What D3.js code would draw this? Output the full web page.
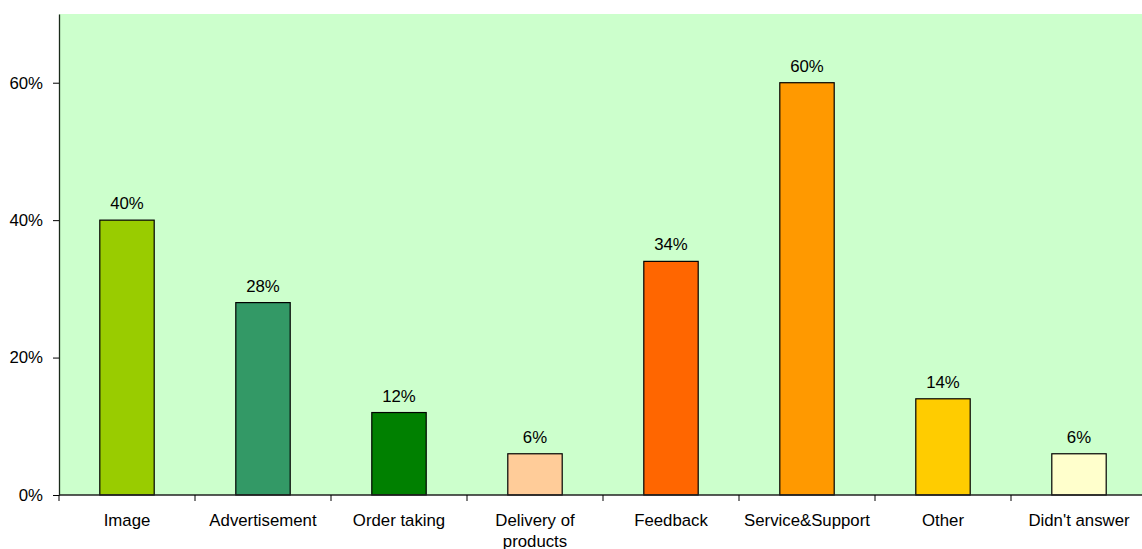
<!DOCTYPE html>
<html>
<head>
<meta charset="utf-8">
<script src="https://cdn.jsdelivr.net/npm/d3@7"></script>
<style>
  html, body { margin: 0; padding: 0; background: #fff; }
  svg { display: block; font-family: "Liberation Sans", Arial, sans-serif; }
</style>
</head>
<body>
<svg id="chart" width="1142" height="549"></svg>
<script>
// Survey answers: share of respondents per purpose
const categories = ["Image", "Advertisement", "Order taking", "Delivery of products",
                    "Feedback", "Service&Support", "Other", "Didn't answer"];
const values = [40, 28, 12, 6, 34, 60, 14, 6];
const barColors = ["#99CC00", "#339966", "#008000", "#FFCC99",
                   "#FF6600", "#FF9900", "#FFCC00", "#FFFFCC"];
const yTicks = [0, 20, 40, 60];
// category labels split onto two lines where needed
const labelLines = {"Delivery of products": ["Delivery of", "products"]};

const svg = d3.select("#chart");
const margin = {left: 59, top: 14, bottom: 54};
const plotW = 136 * categories.length;
const plotH = 549 - margin.top - margin.bottom;

const x = d3.scaleBand().domain(categories).range([0, plotW]).paddingInner(0.6).paddingOuter(0.3);
const y = d3.scaleLinear().domain([0, 70]).range([plotH, 0]);

const g = svg.append("g").attr("transform", `translate(${margin.left},${margin.top})`);

// plot background
g.append("rect").attr("x", 0).attr("y", 0).attr("width", plotW).attr("height", plotH)
  .attr("fill", "#CCFFCC");

// bars
g.selectAll("rect.bar").data(values).join("rect")
  .attr("class", "bar")
  .attr("x", (d, i) => x(categories[i]))
  .attr("y", d => y(d))
  .attr("width", x.bandwidth())
  .attr("height", d => y(0) - y(d))
  .attr("fill", (d, i) => barColors[i])
  .attr("stroke", "#000")
  .attr("stroke-width", 1.2);

// value labels
g.selectAll("text.val").data(values).join("text")
  .attr("class", "val")
  .attr("x", (d, i) => x(categories[i]) + x.bandwidth() / 2)
  .attr("y", d => y(d) - 11)
  .attr("text-anchor", "middle")
  .attr("font-size", 16.8)
  .attr("fill", "#000")
  .text(d => d + "%");

// y axis
const yAxis = g.append("g")
  .call(d3.axisLeft(y).tickValues(yTicks).tickFormat(d => d + "%")
    .tickSizeInner(6).tickSizeOuter(0).tickPadding(10));
yAxis.select(".domain").attr("stroke", "#1a2a1a").attr("stroke-width", 1.3);
yAxis.selectAll(".tick line").attr("stroke", "#000");
yAxis.selectAll(".tick text").attr("font-size", 16.8).attr("fill", "#000").attr("font-family", "Liberation Sans, Arial, sans-serif");

// x axis: ticks sit on category boundaries
const boundaries = d3.range(categories.length).map(i => i * 136);
const xAxisG = g.append("g").attr("transform", `translate(0,${plotH})`);
xAxisG.append("line").attr("x1", 0).attr("x2", plotW).attr("y1", 0).attr("y2", 0)
  .attr("stroke", "#222").attr("stroke-width", 1.3);
xAxisG.selectAll("line.tk").data(boundaries).join("line")
  .attr("class", "tk")
  .attr("x1", d => d).attr("x2", d => d).attr("y1", 0).attr("y2", 6)
  .attr("stroke", "#000");

xAxisG.selectAll("text.cat").data(categories).join("text")
  .attr("class", "cat")
  .attr("x", d => x(d) + x.bandwidth() / 2)
  .attr("y", 31)
  .attr("text-anchor", "middle")
  .attr("font-size", 16.8)
  .attr("fill", "#000")
  .each(function(d) {
    const lines = labelLines[d] || [d];
    const t = d3.select(this);
    lines.forEach((ln, k) => {
      t.append("tspan").attr("x", x(d) + x.bandwidth() / 2).attr("dy", k === 0 ? 0 : 21).text(ln);
    });
  });
</script>
</body>
</html>
